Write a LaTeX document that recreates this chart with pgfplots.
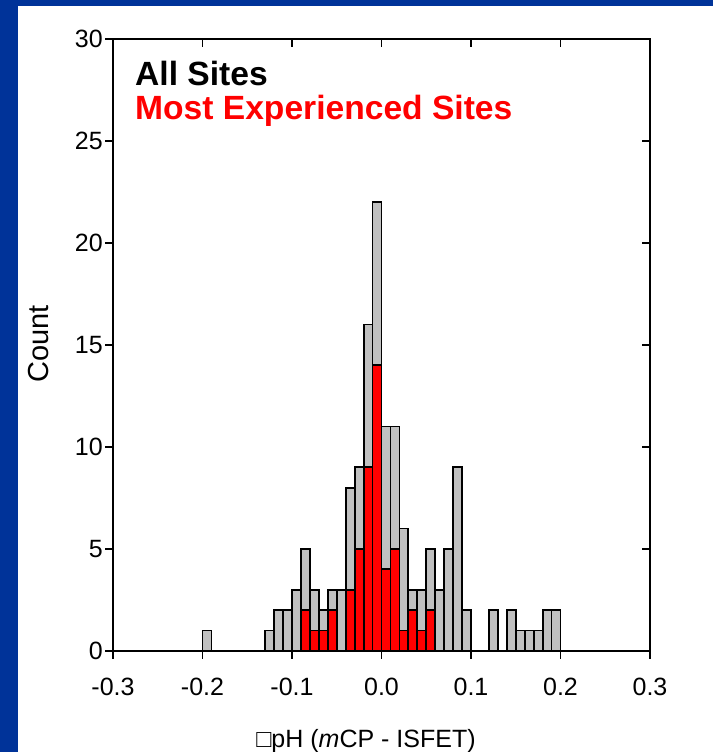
\documentclass[border=0pt]{standalone}
\usepackage{pgfplots}
\pgfplotsset{compat=1.18}
\usepackage{pgfplotstable}
\usepackage{fontspec}
\setmainfont{Liberation Sans}
\definecolor{bgblue}{HTML}{003399}
\definecolor{bargray}{HTML}{C0C0C0}

\pgfplotstableread{
x y
-0.195 1
-0.125 1
-0.115 2
-0.105 2
-0.095 3
-0.085 5
-0.075 3
-0.065 2
-0.055 3
-0.045 3
-0.035 8
-0.025 9
-0.015 16
-0.005 22
0.005 11
0.015 11
0.025 6
0.035 3
0.045 3
0.055 5
0.065 3
0.075 5
0.085 9
0.095 2
0.125 2
0.145 2
0.155 1
0.165 1
0.175 1
0.185 2
0.195 2
}\allsites

\pgfplotstableread{
x y
-0.085 2
-0.075 1
-0.065 1
-0.055 2
-0.035 3
-0.025 5
-0.015 9
-0.005 14
0.005 4
0.015 5
0.025 1
0.035 2
0.045 1
0.055 2
}\mostexp

\begin{document}
\begin{tikzpicture}
\useasboundingbox (0,0) rectangle (713pt,752pt);
\fill[bgblue] (0,0) rectangle (713pt,752pt);
\fill[white] (18pt,0) rectangle (713pt,746pt);
\begin{axis}[
  at={(113pt,101pt)}, anchor=south west,
  scale only axis, width=537pt, height=612pt,
  xmin=-0.3, xmax=0.3, ymin=0, ymax=30,
  xtick={-0.3,-0.2,-0.1,0,0.1,0.2,0.3},
  xticklabels={-0.3,-0.2,-0.1,0.0,0.1,0.2,0.3},
  ytick={0,5,10,15,20,25,30},
  yticklabels={0,5,10,15,20,25,30},
  xtick pos=left, ytick pos=left,
  tick align=outside,
  major tick length=8pt,
  tick style={line width=1.5pt, black},
  axis line style={line width=2pt},
  xticklabel style={font=\fontsize{25}{30}\selectfont, anchor=north, inner sep=0pt, yshift=-19pt},
  yticklabel style={font=\fontsize{25}{30}\selectfont, anchor=east, inner sep=0pt, xshift=-2pt},
  axis on top,
]
\addplot[ybar, bar width=0.01, bar shift=0pt, fill=bargray, draw=black, line width=1.8pt] table[x=x,y=y] {\allsites};
\addplot[ybar, bar width=0.01, bar shift=0pt, fill=red, draw=black, line width=1.8pt] table[x=x,y=y] {\mostexp};
\end{axis}
\begin{axis}[
  at={(113pt,101pt)}, anchor=south west,
  scale only axis, width=537pt, height=612pt,
  xmin=-0.3, xmax=0.3, ymin=0, ymax=30,
  xtick={-0.3,-0.2,-0.1,0,0.1,0.2,0.3},
  ytick={0,5,10,15,20,25,30},
  xticklabels={}, yticklabels={},
  xtick pos=right, ytick pos=right,
  tick align=inside,
  major tick length=8pt,
  tick style={line width=1.5pt, black},
  axis line style={line width=2pt},
]
\end{axis}
\node[anchor=base west, inner sep=0pt, font=\bfseries\fontsize{33.6}{36}\selectfont] at (135pt,666pt) {All Sites};
\node[anchor=base west, inner sep=0pt, font=\bfseries\fontsize{33.6}{36}\selectfont, text=red] at (135pt,632pt) {Most Experienced Sites};
\node[anchor=base, inner sep=0pt, rotate=90, font=\fontsize{29}{32}\selectfont] at (48pt,408pt) {Count};
\node[anchor=base, inner sep=0pt, font=\fontsize{25}{30}\selectfont] at (366pt,5pt) {□pH (\textit{m}CP - ISFET)};
\end{tikzpicture}
\end{document}
